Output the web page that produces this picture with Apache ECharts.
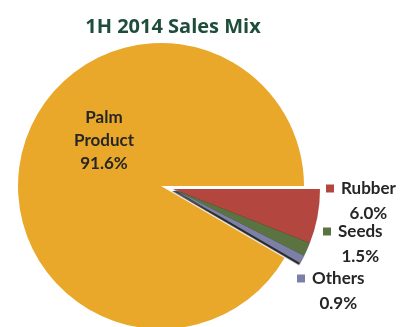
<!DOCTYPE html>
<html>
<head>
<meta charset="utf-8">
<script src="https://cdn.jsdelivr.net/npm/echarts@6/dist/echarts.min.js"></script>
<style>html,body{margin:0;padding:0;background:#fff}#c{width:403px;height:327px}</style>
</head>
<body>
<div id="c"></div>
<script>
var categories = ['Rubber', 'Seeds', 'Others', 'Palm Product'];
var values = [6.0, 1.5, 0.9, 91.6];
var colors = ['#b3473f', '#5b7340', '#7c80a6', '#eaa82a'];
var exploded = [true, true, true, false];
var titleText = '1H 2014 Sales Mix';

var labelPos = [
  {x: 326, y: 176, align: 'left', verticalAlign: 'top'},
  {x: 323, y: 219, align: 'left', verticalAlign: 'top'},
  {x: 297, y: 266, align: 'left', verticalAlign: 'top'},
  {x: 104, y: 141, align: 'center', verticalAlign: 'middle'}
];

var FONT = 'Lato';
var rich = {
  n: {fontFamily: FONT, fontWeight: 'bold', fontSize: 17, color: '#262626', lineHeight: 25, padding: [0, 0, 0, 7]},
  v: {fontFamily: FONT, fontWeight: 'bold', fontSize: 17, color: '#262626', lineHeight: 25, align: 'center', padding: [0, 0, 0, 15]}
};
colors.forEach(function (c, i) {
  rich['sq' + i] = {width: 8, height: 8, backgroundColor: c, lineHeight: 25};
});

function buildData(showExploded) {
  return categories.map(function (name, i) {
    var visible = exploded[i] === showExploded;
    var item = {
      name: name,
      value: values[i],
      itemStyle: {color: visible ? colors[i] : 'rgba(0,0,0,0)'},
      label: {show: visible}
    };
    if (!visible) return item;
    if (!exploded[i]) {
      item.label = {
        show: true,
        formatter: name.replace(' ', '\n') + '\n' + values[i].toFixed(1) + '%',
        fontFamily: FONT, fontWeight: 'bold', fontSize: 17, color: '#262626',
        lineHeight: 23, align: 'center'
      };
    } else {
      item.label = {
        show: true,
        formatter: '{sq' + i + '|}{n|' + name + '}\n{v|' + values[i].toFixed(1) + '%}',
        rich: rich
      };
      item.itemStyle.shadowColor = 'rgba(0,0,0,0.85)';
      item.itemStyle.shadowOffsetY = 2;
      item.itemStyle.shadowOffsetX = -1;
      item.itemStyle.shadowBlur = 1;
    }
    return item;
  });
}

var common = {
  type: 'pie',
  startAngle: 0,
  clockwise: true,
  avoidLabelOverlap: false,
  label: {position: 'outside'},
  labelLine: {show: false},
  emphasis: {disabled: true},
  labelLayout: function (p) { return labelPos[p.dataIndex]; }
};

var chart = echarts.init(document.getElementById('c'), null, {renderer: 'canvas'});
chart.setOption({
  animation: false,
  backgroundColor: '#ffffff',
  title: {
    text: titleText,
    left: 168, top: 12, textAlign: 'center',
    textStyle: {fontFamily: 'Open Sans', fontWeight: 'bold', fontSize: 20, color: '#1f4d3b'}
  },
  series: [
    Object.assign({}, common, {center: [161, 186], radius: 143, data: buildData(false)}),
    Object.assign({}, common, {center: [173, 189], radius: 147, data: buildData(true)})
  ]
});
</script>
</body>
</html>
